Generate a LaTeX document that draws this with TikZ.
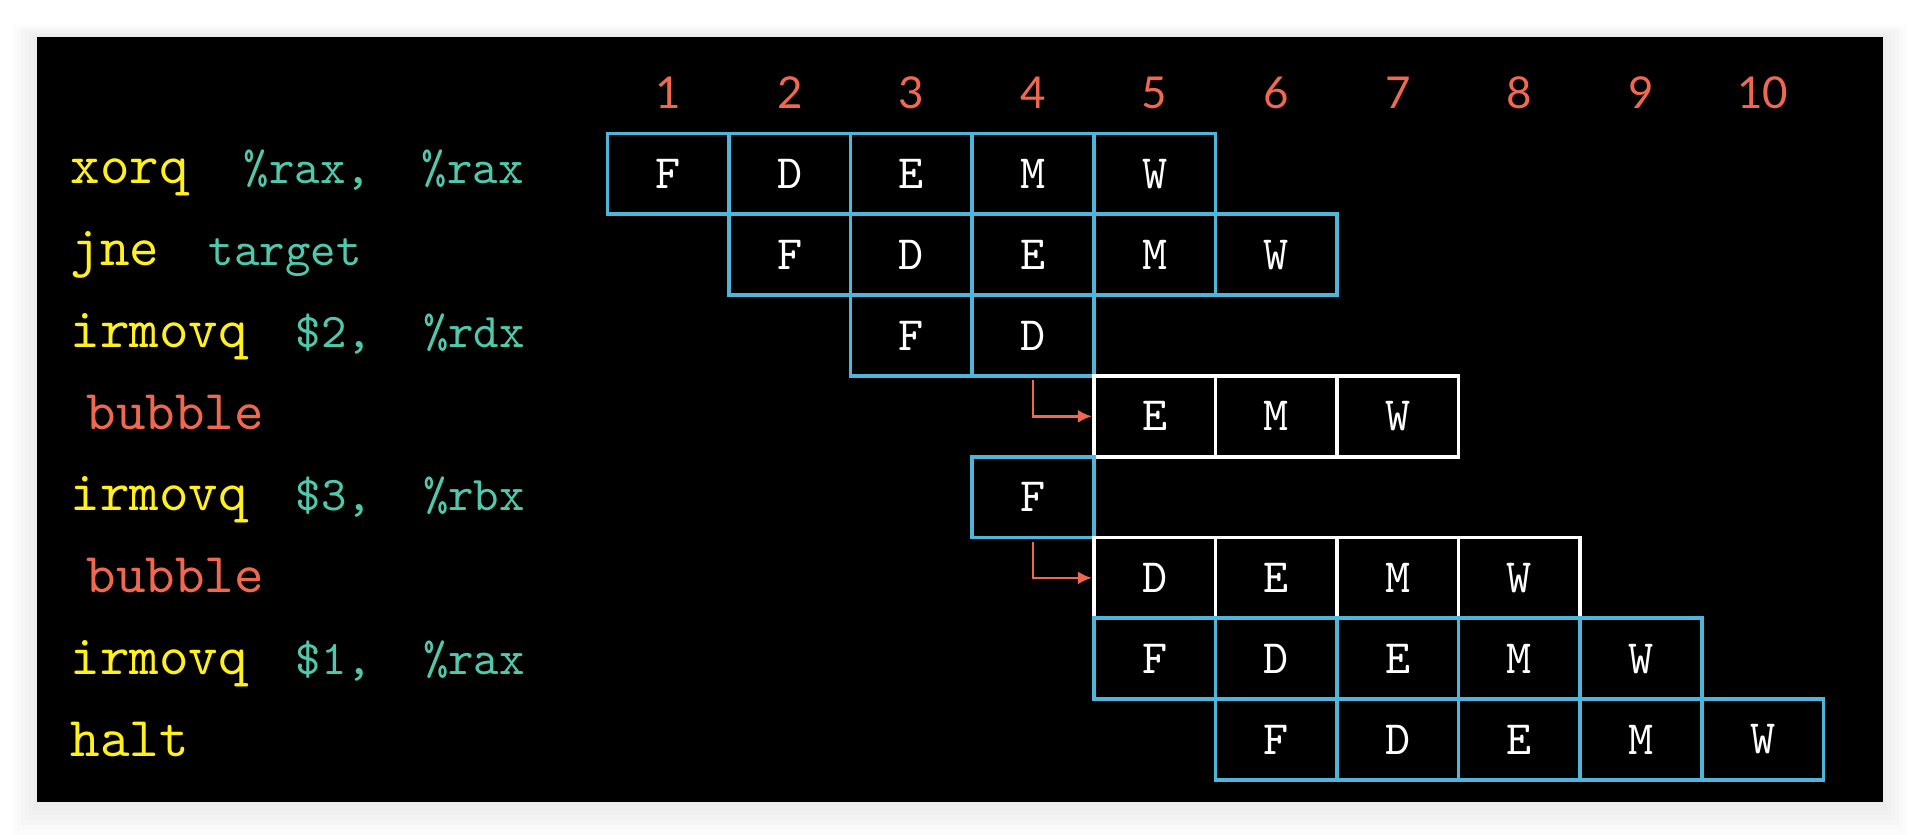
\documentclass[tikz,border=0pt]{standalone}
\usepackage{fontspec}
\setmonofont{lmmono10-regular.otf}
\newfontfamily\numfont{Lato}
\usetikzlibrary{arrows.meta}
\definecolor{pipeblue}{RGB}{77,182,218}
\definecolor{opgreen}{RGB}{80,200,172}
\definecolor{insyellow}{RGB}{255,240,30}
\definecolor{coral}{RGB}{240,104,80}
\tikzset{
	stage/.style={line width=1.05pt, minimum width=1.216cm, minimum height=.808cm, inner sep=0pt, text=white, font=\fontsize{13.6}{15}\selectfont\ttfamily},
	ins/.style={anchor=base west, inner sep=0pt, text=insyellow, font=\fontsize{16}{18}\selectfont\ttfamily},
	arg/.style={anchor=base west, inner sep=0pt, text=opgreen, font=\fontsize{13.8}{15}\selectfont\ttfamily},
	cycle/.style={anchor=base, text=coral, font=\fontsize{12.5}{14}\selectfont\numfont},
	stall/.style={-{Latex[length=.14cm, width=.13cm]}, draw=coral, line width=.8pt}
}
\begin{document}
	\begin{tikzpicture}
		\useasboundingbox (0,0) rectangle (19.2,-8.39);
		\fill[white] (0,0) rectangle (19.2,-8.39);
		\foreach \i in {1,...,6}
			\fill[black, opacity=.012] (.367-.04*\i,-.367+.02*\i) rectangle (18.83+.04*\i,-8.05-.05*\i);
		\fill[black] (.367,-.367) rectangle (18.83,-8.02);
		\foreach \n in {1,...,10}
			\node[cycle] (t\n) at ({5.466+1.216*\n},-1.083) {\n};
		\node[ins] (i1) at (.70,-1.833) {xorq};
		\node[arg] (a1) at (2.43,-1.833) {\%rax,\ \ \%rax};
		\node[ins] (i2) at (.70,-2.652) {jne};
		\node[arg] (a2) at (2.08,-2.652) {target};
		\node[ins] (i3) at (.70,-3.471) {irmovq};
		\node[arg] (a3) at (2.95,-3.471) {\$2,\ \ \%rdx};
		\node[ins, text=coral] (i4) at (.86,-4.29) {bubble};
		\node[ins] (i5) at (.70,-5.109) {irmovq};
		\node[arg] (a5) at (2.95,-5.109) {\$3,\ \ \%rbx};
		\node[ins, text=coral] (i6) at (.86,-5.928) {bubble};
		\node[ins] (i7) at (.70,-6.747) {irmovq};
		\node[arg] (a7) at (2.95,-6.747) {\$1,\ \ \%rax};
		\node[ins] (i8) at (.70,-7.566) {halt};
		\foreach \r/\c/\edge/\stages in {1/1/pipeblue/{F,D,E,M,W}, 2/2/pipeblue/{F,D,E,M,W}, 3/3/pipeblue/{F,D}, 4/5/white/{E,M,W}, 5/4/pipeblue/{F}, 6/5/white/{D,E,M,W}, 7/5/pipeblue/{F,D,E,M,W}, 8/6/pipeblue/{F,D,E,M,W}}
			\foreach \s [count=\k from 0] in \stages {
				\pgfmathtruncatemacro\col{\c+\k}
				\node[stage, draw=\edge] (r\r c\col) at ({5.466+1.216*\col},{-.931-.808*\r}) {\s};
			}
		\draw[stall] ([yshift=-.025cm]r3c4.south) |- (r4c5.west);
		\draw[stall] ([yshift=-.025cm]r5c4.south) |- (r6c5.west);
	\end{tikzpicture}
\end{document}
